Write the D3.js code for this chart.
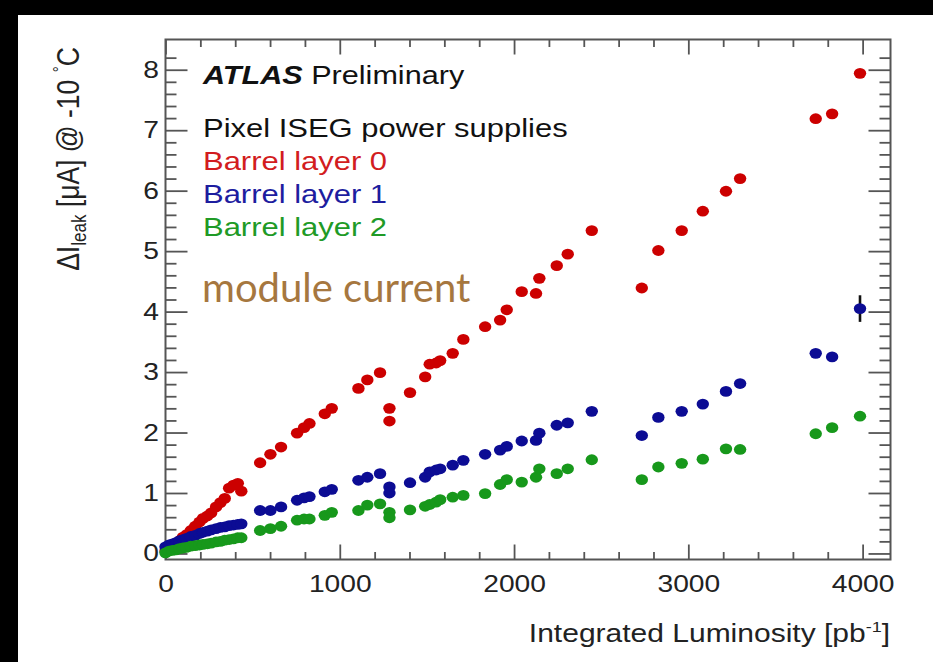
<!DOCTYPE html>
<html><head><meta charset="utf-8">
<script src="https://cdn.jsdelivr.net/npm/d3@7"></script>
<style>html,body{margin:0;padding:0;background:#000;overflow:hidden}</style>
</head><body>
<svg id="c" width="933" height="662"></svg>
<script>
// ---- data ----
const lumi = [0, 20, 40, 60, 80, 100, 120, 145, 170, 195, 215, 240, 262, 290, 315, 340, 365, 390, 415, 435,
  543, 602, 663, 755, 795, 826, 914, 954, 1107, 1158, 1231, 1285, 1285, 1403, 1490, 1516, 1553, 1576, 1648, 1709,
  1834, 1920, 1958, 2044, 2126, 2145, 2245, 2308, 2446, 2733, 2828, 2962, 3083, 3216, 3297, 3731, 3825, 3985];
const layer0 = [0.04, 0.08, 0.12, 0.16, 0.21, 0.27, 0.31, 0.38, 0.45, 0.52, 0.58, 0.62, 0.67, 0.77, 0.84, 0.91, 1.08, 1.13, 1.16, 1.03,
  1.50, 1.64, 1.76, 1.99, 2.08, 2.15, 2.31, 2.40, 2.73, 2.87, 2.99, 2.40, 2.19, 2.66, 2.92, 3.13, 3.15, 3.19, 3.31, 3.54,
  3.75, 3.86, 4.03, 4.33, 4.30, 4.55, 4.76, 4.95, 5.34, 4.39, 5.01, 5.34, 5.66, 5.99, 6.20, 7.19, 7.27, 7.94];
const layer1 = [0.11, 0.14, 0.16, 0.18, 0.21, 0.23, 0.25, 0.28, 0.30, 0.33, 0.35, 0.37, 0.39, 0.41, 0.43, 0.44, 0.46, 0.47, 0.48, 0.49,
  0.71, 0.71, 0.77, 0.88, 0.92, 0.94, 1.02, 1.06, 1.21, 1.26, 1.32, 1.10, 1.00, 1.17, 1.26, 1.35, 1.38, 1.40, 1.46, 1.54,
  1.64, 1.71, 1.77, 1.86, 1.87, 1.99, 2.12, 2.16, 2.35, 1.95, 2.25, 2.35, 2.47, 2.68, 2.81, 3.31, 3.25, 4.05];
const layer2 = [0.01, 0.04, 0.05, 0.06, 0.08, 0.09, 0.10, 0.12, 0.13, 0.14, 0.15, 0.16, 0.17, 0.19, 0.20, 0.22, 0.23, 0.24, 0.26, 0.26,
  0.38, 0.41, 0.45, 0.55, 0.57, 0.57, 0.63, 0.68, 0.71, 0.80, 0.82, 0.68, 0.59, 0.72, 0.78, 0.81, 0.85, 0.89, 0.93, 0.96,
  0.99, 1.14, 1.22, 1.18, 1.26, 1.40, 1.32, 1.40, 1.55, 1.22, 1.43, 1.49, 1.56, 1.73, 1.72, 1.98, 2.08, 2.27];
const errorBars = [{series: 1, index: 57, err: 0.22}];
const xTicks = [0, 1000, 2000, 3000, 4000];
const yTicks = [0, 1, 2, 3, 4, 5, 6, 7, 8];
const seriesNames = ["Barrel layer 0", "Barrel layer 1", "Barrel layer 2"];
const headerText = "Pixel ISEG power supplies";

// ---- layout ----
const W = 933, H = 662;
const L = 165.5, R = 890.5, T = 39.5, B = 559.5;
const SX = 1.2;   // horizontal stretch of the original picture
const FONT = "'Liberation Sans', Arial, Helvetica, sans-serif";
const dotColors = ["#cc0000", "#0c0c94", "#17981b"];
const textColors = ["#d21c20", "#1d1d9f", "#209a26"];
const axisColor = "#555";

const svg = d3.select("#c");
svg.append("rect").attr("width", W).attr("height", H).attr("fill", "#000");
svg.append("rect").attr("x", 18).attr("y", 15).attr("width", W - 18).attr("height", H - 15).attr("fill", "#fff");

const x = d3.scaleLinear().domain([0, 4160]).range([L, R]);
const y = d3.scaleLinear().domain([-0.1, 8.5]).range([B, T]);

const xMinor = d3.range(0, 4160, 200).filter(v => v % 1000 !== 0);
const yMinor = d3.range(0, 42).map(i => +(i * 0.2).toFixed(1)).filter(v => Math.abs(v - Math.round(v)) > 1e-6 && v <= 8.5);

function styleAxis(g) {
  g.select(".domain").remove();
  g.selectAll(".tick line").attr("stroke", axisColor).attr("stroke-width", 1.8);
}
// bottom
svg.append("g").attr("transform", `translate(0,${B})`)
  .call(d3.axisBottom(x).tickValues(xMinor).tickSize(-7.5).tickFormat(""))
  .call(styleAxis);
const gx = svg.append("g").attr("transform", `translate(0,${B})`)
  .call(d3.axisBottom(x).tickValues(xTicks).tickSize(-15).tickPadding(15.5).tickFormat(d3.format("d")))
  .call(styleAxis);
gx.selectAll("text").attr("font-family", FONT).attr("font-size", 23.5).attr("fill", "#222")
  .attr("transform", `scale(${SX},1)`);
// top
svg.append("g").attr("transform", `translate(0,${T})`)
  .call(d3.axisTop(x).tickValues(xMinor).tickSize(-7.5).tickFormat("")).call(styleAxis);
svg.append("g").attr("transform", `translate(0,${T})`)
  .call(d3.axisTop(x).tickValues(xTicks).tickSize(-15).tickFormat("")).call(styleAxis);
// left
svg.append("g").attr("transform", `translate(${L},0)`)
  .call(d3.axisLeft(y).tickValues(yMinor).tickSize(-11).tickFormat("")).call(styleAxis);
const gy = svg.append("g").attr("transform", `translate(${L},0)`)
  .call(d3.axisLeft(y).tickValues(yTicks).tickSize(-22).tickPadding(6).tickFormat(d3.format("d")))
  .call(styleAxis);
gy.selectAll("text").attr("font-family", FONT).attr("font-size", 23.5).attr("fill", "#222")
  .attr("x", -6.5 / SX).attr("transform", `scale(${SX},1)`);
// right
svg.append("g").attr("transform", `translate(${R},0)`)
  .call(d3.axisRight(y).tickValues(yMinor).tickSize(-11).tickFormat("")).call(styleAxis);
svg.append("g").attr("transform", `translate(${R},0)`)
  .call(d3.axisRight(y).tickValues(yTicks).tickSize(-22).tickFormat("")).call(styleAxis);

// frame
svg.append("rect").attr("x", L).attr("y", T).attr("width", R - L).attr("height", B - T)
  .attr("fill", "none").attr("stroke", axisColor).attr("stroke-width", 2);

// error bars
const seriesData = [layer0, layer1, layer2];
errorBars.forEach(e => {
  const v = seriesData[e.series][e.index], xv = lumi[e.index];
  svg.append("line").attr("x1", x(xv)).attr("x2", x(xv))
    .attr("y1", y(v - e.err)).attr("y2", y(v + e.err))
    .attr("stroke", "#111").attr("stroke-width", 2.6);
});

// points
seriesData.forEach((vals, s) => {
  svg.append("g").selectAll("ellipse").data(vals).join("ellipse")
    .attr("cx", (d, i) => x(lumi[i])).attr("cy", d => y(d))
    .attr("rx", 6.2).attr("ry", 5.4).attr("fill", dotColors[s]);
});

// texts
function stretched(xp, yp) {
  return svg.append("text").attr("transform", `translate(${xp},${yp}) scale(${SX},1)`)
    .attr("font-family", FONT);
}
const t1 = stretched(203, 84).attr("font-size", 25.5).attr("fill", "#111");
t1.append("tspan").attr("font-weight", "bold").attr("font-style", "italic").text("ATLAS");
t1.append("tspan").text(" Preliminary");
stretched(203, 137).attr("font-size", 25.8).attr("fill", "#111").text(headerText);
seriesNames.forEach((n, i) => {
  stretched(203, 170 + 33 * i).attr("font-size", 25.8).attr("fill", textColors[i]).text(n);
});

svg.append("text").attr("x", 202).attr("y", 302)
  .attr("font-family", "Lato, 'Open Sans', sans-serif").attr("font-size", 40)
  .attr("fill", "#a6773f").text("module current");

// x title
const xt = stretched(890, 641.5).attr("font-size", 25).attr("fill", "#222").attr("text-anchor", "end");
xt.append("tspan").text("Integrated Luminosity [pb");
xt.append("tspan").attr("font-size", 15).attr("dy", -10).text("-1");
xt.append("tspan").attr("dy", 10).text("]");

// y title
const yt = svg.append("text")
  .attr("transform", `translate(79,159) scale(${SX},1) rotate(-90)`)
  .attr("font-family", FONT).attr("font-size", 26.5).attr("fill", "#222").attr("text-anchor", "middle");
yt.append("tspan").text("ΔI");
yt.append("tspan").attr("font-size", 17).attr("dy", 6).text("leak");
yt.append("tspan").attr("dy", -6).text(" [μA] @ -10 ");
yt.append("tspan").attr("font-size", 15).attr("dy", -11).text("°");
yt.append("tspan").attr("dy", 11).text("C");
</script>
</body></html>
